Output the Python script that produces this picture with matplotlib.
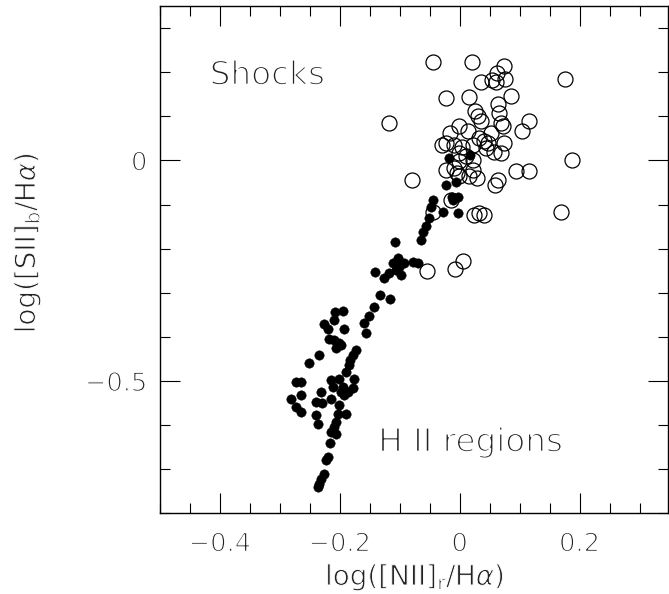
import matplotlib
matplotlib.use("Agg")
import matplotlib.pyplot as plt
import matplotlib.patheffects as pe
from matplotlib.ticker import MultipleLocator, FixedLocator

# ---- data ----
shock_x = [-0.0447, 0.0205, 0.0743, 0.0624, 0.0763, 0.0354, 0.0541, 0.0608, 0.1756,
           -0.0229, 0.0152, 0.0855, -0.1174, 0.0262, 0.0301, 0.0357, 0.0634, 0.0663,
           0.0691, 0.0718, 0.1150, 0.1037, -0.0017, 0.0134, -0.0164, -0.0227, -0.0294,
           -0.0088, 0.0045, 0.0329, 0.0467, 0.0441, 0.0579, 0.0691, 0.0746, 0.0217,
           0.1878, -0.0227, -0.0005, 0.0217, 0.0942, 0.1164, -0.0795, -0.0048, 0.0224,
           0.0285, 0.0162, 0.0646, 0.0588, 0.0104, -0.0018, 0.0406, 0.0529, -0.0139,
           -0.0442, 0.0245, 0.0329, 0.0412, 0.1691, -0.0548, -0.0072, 0.0058, -0.0005,
           -0.0088]
shock_y = [0.222, 0.224, 0.214, 0.199, 0.185, 0.177, 0.183, 0.178, 0.185,
           0.141, 0.143, 0.145, 0.085, 0.111, 0.100, 0.089, 0.127, 0.108,
           0.085, 0.077, 0.089, 0.066, 0.079, 0.066, 0.063, 0.040, 0.036,
           0.036, 0.030, 0.051, 0.040, 0.028, 0.020, 0.017, 0.040, 0.036,
           0.001, -0.021, -0.002, 0.002, -0.023, -0.023, -0.044, -0.029, -0.021,
           -0.040, -0.036, -0.044, -0.055, 0.009, 0.017, 0.043, 0.062, -0.089,
           -0.117, -0.123, -0.120, -0.123, -0.116, -0.250, -0.247, -0.229, -0.036,
           -0.017]

hii_x = [-0.0180, 0.0170, -0.0222, -0.0055, -0.0127, -0.0033, -0.0117, -0.0451, -0.0477,
         -0.0284, -0.0033, -0.0506, -0.0561, -0.0606, -0.0644, -0.1073, -0.1035, -0.1119,
         -0.1007, -0.0923, -0.0785, -0.0701, -0.1062, -0.1174, -0.1257, -0.0978, -0.1407,
         -0.1329, -0.1162, -0.1436, -0.1508, -0.1603, -0.1563, -0.1953, -0.2075, -0.2092,
         -0.2259, -0.2204, -0.1925, -0.2175, -0.2092, -0.2008, -0.2063, -0.1980, -0.1730,
         -0.1786, -0.1830, -0.1841, -0.2342, -0.2509, -0.2726, -0.2643, -0.1896, -0.1758,
         -0.2008, -0.2147, -0.2120, -0.1953, -0.1786, -0.1980, -0.1870, -0.2314, -0.2648,
         -0.2815, -0.2147, -0.1925, -0.2731, -0.2648, -0.2397, -0.2297, -0.2008, -0.2037,
         -0.1896, -0.2397, -0.2371, -0.2063, -0.2092, -0.2147, -0.2063, -0.2159, -0.2204,
         -0.2230, -0.2259, -0.2314, -0.2354, -0.2371]
hii_y = [0.006, 0.013, -0.055, -0.048, -0.082, -0.082, -0.089, -0.089, -0.105,
         -0.116, -0.120, -0.131, -0.148, -0.162, -0.180, -0.186, -0.222, -0.233,
         -0.241, -0.233, -0.230, -0.233, -0.248, -0.256, -0.267, -0.260, -0.252,
         -0.305, -0.315, -0.332, -0.353, -0.368, -0.392, -0.341, -0.343, -0.362,
         -0.372, -0.383, -0.383, -0.404, -0.408, -0.414, -0.426, -0.419, -0.430,
         -0.442, -0.453, -0.464, -0.442, -0.459, -0.503, -0.503, -0.480, -0.495,
         -0.495, -0.498, -0.514, -0.514, -0.517, -0.525, -0.525, -0.525, -0.532,
         -0.540, -0.540, -0.532, -0.559, -0.570, -0.548, -0.551, -0.555, -0.574,
         -0.574, -0.578, -0.597, -0.593, -0.605, -0.616, -0.620, -0.641, -0.673,
         -0.680, -0.710, -0.722, -0.733, -0.741]

x_ticks = [-0.4, -0.2, 0.0, 0.2]
x_tick_labels = ["\u22120.4", "\u22120.2", "0", "0.2"]
y_ticks = [-0.5, 0.0]
y_tick_labels = ["\u22120.5", "0"]

plt.rcParams["font.family"] = ["DejaVu Sans"]
plt.rcParams["mathtext.fontset"] = "dejavusans"
TXT = "#222222"


def thin(size, k=0.052):
    # erode the glyph outlines so the text looks like a thin stroke font
    return [pe.Stroke(linewidth=k * size, foreground="white")]


fig = plt.figure(figsize=(6.69, 5.94), dpi=100)
W, H = 669, 594
left, right, top, bottom = 160, 668, 6, 513.3
ax = fig.add_axes([left / W, 1 - bottom / H, (right - left) / W, (bottom - top) / H])

ax.plot(shock_x, shock_y, linestyle="none", marker="o", ms=10.8, mfc="none",
        mec="black", mew=0.9)
ax.plot(hii_x, hii_y, linestyle="none", marker="o", ms=6.8, mfc="black",
        mec="black", mew=0.3)

ax.set_xlim(-0.5, 0.3475)
ax.set_ylim(-0.8, 0.35)

ax.xaxis.set_major_locator(FixedLocator(x_ticks))
ax.set_xticklabels(x_tick_labels)
ax.xaxis.set_minor_locator(MultipleLocator(0.05))
ax.yaxis.set_major_locator(FixedLocator(y_ticks))
ax.set_yticklabels(y_tick_labels)
ax.yaxis.set_minor_locator(MultipleLocator(0.1))

TICK_SIZE = 18.5
ax.tick_params(which="both", direction="in", top=True, right=True, color="black",
               labelcolor=TXT)
ax.tick_params(which="major", length=14.5, width=0.8, labelsize=TICK_SIZE)
ax.tick_params(which="minor", length=7.2, width=0.8)
ax.tick_params(axis="x", which="major", pad=13)
ax.tick_params(axis="y", which="major", pad=9)
for lab in ax.get_xticklabels() + ax.get_yticklabels():
    lab.set_path_effects(thin(TICK_SIZE))
for s in ax.spines.values():
    s.set_linewidth(1.0)

ANN = 23.5
ax.text(-0.417, 0.172, "Shocks", fontsize=ANN, color=TXT, ha="left", va="baseline",
        path_effects=thin(ANN))
ax.text(-0.136, -0.660, "H II regions", fontsize=ANN, color=TXT, ha="left",
        va="baseline", path_effects=thin(ANN))

LAB = 20
fig.text(414.7 / W, 1 - 577 / H, r"log([NII]$_{\mathrm{r}}$/H$\alpha$)", fontsize=LAB,
         color=TXT, ha="center", va="center", path_effects=thin(LAB, 0.034))
fig.text(27 / W, 1 - 243 / H, r"log([SII]$_{\mathrm{b}}$/H$\alpha$)", fontsize=LAB,
         color=TXT, ha="center", va="center", rotation=90,
         path_effects=thin(LAB, 0.034))

fig.savefig("out.png", dpi=100)
